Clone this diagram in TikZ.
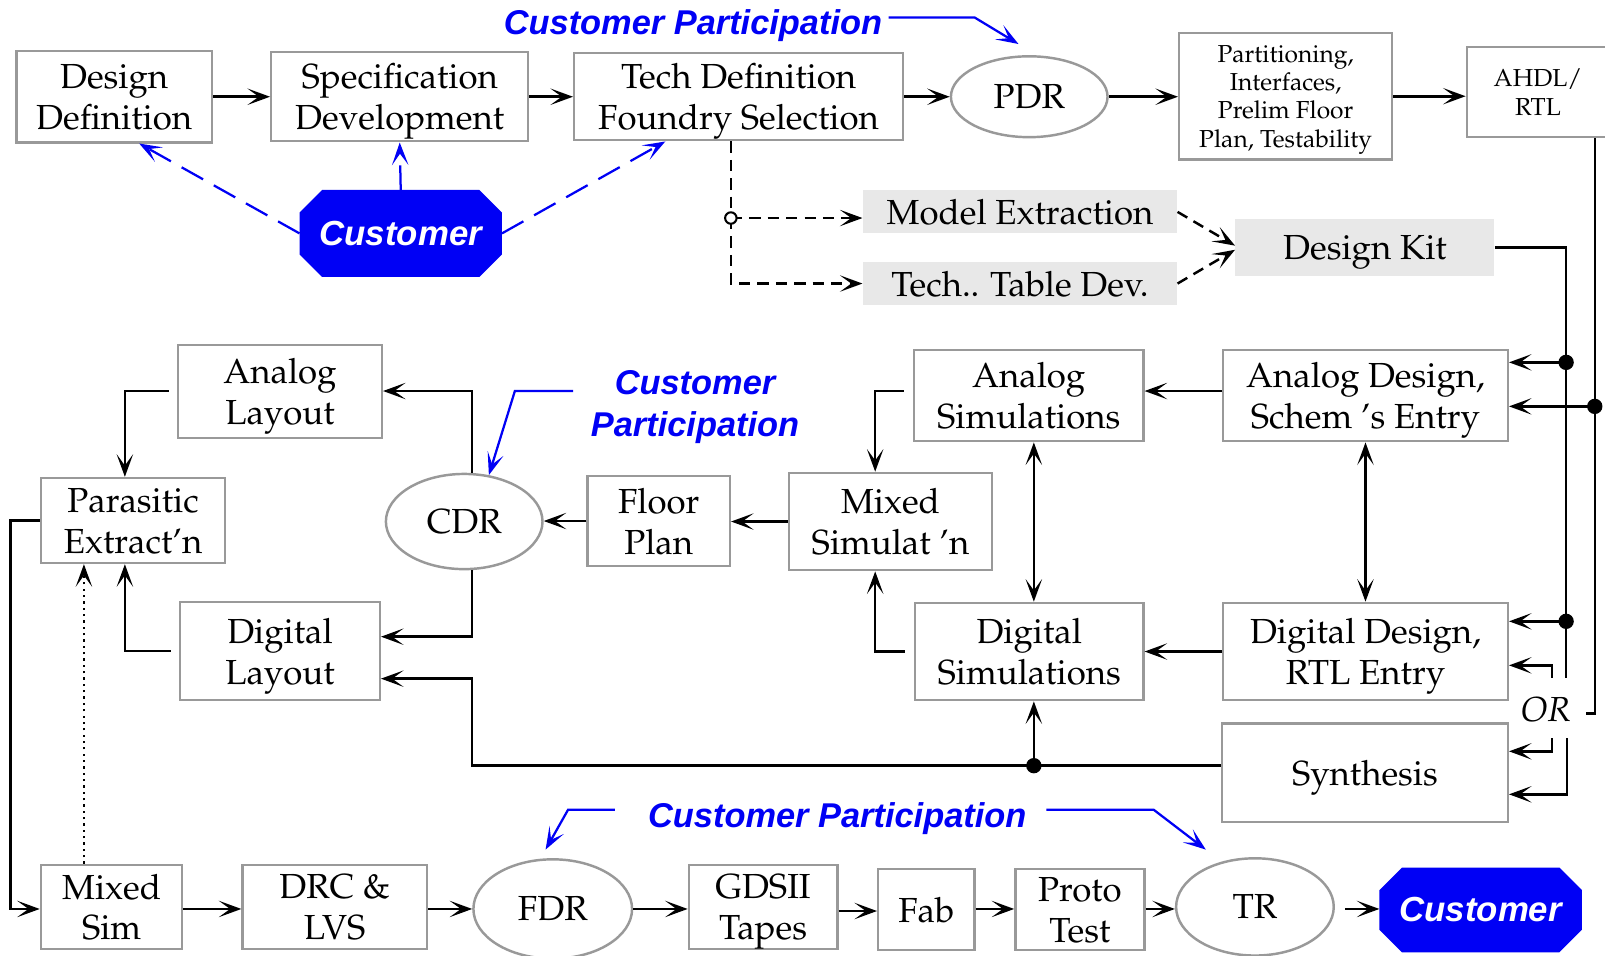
\documentclass[tikz,border=0pt]{standalone}
\usepackage[T1]{fontenc}
\usepackage{fontspec}
\newfontfamily\custfont{Liberation Sans}
\usetikzlibrary{arrows.meta,shapes.geometric,calc,backgrounds}
\newcommand\palfont{\fontencoding{T1}\fontfamily{ppl}\selectfont}
\definecolor{boxgray}{HTML}{999999}
\definecolor{kitgray}{HTML}{E8E8E8}
\definecolor{custblue}{RGB}{0,0,245}
% octagonal "Customer" badge, filled behind its label
\newcommand\octfill[1]{%
  \begin{pgfonlayer}{background}
    \fill[custblue] ([xshift=11pt]#1.north west) -- ([xshift=-11pt]#1.north east)
      -- ([yshift=-11pt]#1.north east) -- ([yshift=11pt]#1.south east)
      -- ([xshift=-11pt]#1.south east) -- ([xshift=11pt]#1.south west)
      -- ([yshift=11pt]#1.south west) -- ([yshift=-11pt]#1.north west) -- cycle;
  \end{pgfonlayer}}
\begin{document}
\begin{tikzpicture}[x=0.5pt,y=-0.5pt,
  tipA/.tip={Stealth[length=11pt,width=8pt,inset=5.5pt]},
  sz/.style 2 args={minimum width=#1pt,minimum height=#2pt},
  box/.style={draw=boxgray,line width=1.2pt,fill=white,align=center,inner sep=0pt,
    text depth=0pt,font=\palfont\fontsize{17}{20}\selectfont},
  small/.style={font=\palfont\fontsize{12}{13.9}\selectfont},
  oval/.style={ellipse,draw=boxgray,line width=1.2pt,fill=white,inner sep=0pt,
    font=\palfont\fontsize{17}{20}\selectfont},
  kit/.style={fill=kitgray,inner sep=0pt,text depth=0pt,font=\palfont\fontsize{17}{20}\selectfont},
  cust/.style={inner sep=0pt,text=white,font=\custfont\bfseries\itshape\fontsize{17}{20}\selectfont},
  cp/.style={inner sep=0pt,align=center,text=custblue,
    font=\custfont\bfseries\itshape\fontsize{16.8}{20.5}\selectfont},
  conn/.style={line width=1.25pt,-tipA},
  both/.style={line width=1.25pt,tipA-tipA},
  dconn/.style={line width=1.2pt,dash pattern=on 5.5pt off 3.5pt,-tipA},
  bl/.style={line width=1.1pt,draw=custblue,-tipA},
  bld/.style={line width=1.1pt,draw=custblue,dash pattern=on 12pt off 6pt,-tipA},
  dot/.style={circle,fill=black,inner sep=0pt,minimum size=7.5pt}]

\begin{pgfonlayer}{background}
  \fill[white] (0,0) rectangle (1568,933);
\end{pgfonlayer}
\useasboundingbox (0,0) rectangle (1568,933);
\clip (0,0) rectangle (1568,933);

% ---- top row ----
\node[box,sz={95.5}{44.5}] (dd) at (111.5,94.5) {Design\\Definition};
\node[box,sz={125.5}{43.5}] (sd) at (390.5,94.5) {Specification\\Development};
\node[box,sz={160.5}{42.5}] (td) at (721.5,94.5) {Tech Definition\\Foundry Selection};
\node[oval,sz={76.5}{39.5}] (pdr) at (1005.5,94.5) {PDR};
\node[box,small,sz={104}{62}] (part) at (1256,94) {Partitioning,\\Interfaces,\\Prelim Floor\\Plan, Testability};
\node[box,small,sz={69.5}{44}] (ahdl) at (1502.5,90) {AHDL/\\RTL};
\node[cust,sz={98.5}{42}] (c1) at (391.5,228) {Customer};
\octfill{c1}

\draw[conn] (dd.east) -- (sd.west);
\draw[conn] (sd.east) -- (td.west);
\draw[conn] (td.east) -- (pdr.west);
\draw[conn] (pdr.east) -- (part.west |- pdr.east);
\draw[conn] (part.east) -- (ahdl.west |- part.east);

\draw[bld] (c1.west) -- (dd.south -| 136,0);
\draw[bld] (c1.north) -- (sd.south);
\draw[bld] (c1.east) -- (td.south -| 650,0);

% ---- design kit ----
\node[kit,sz={153.5}{21}] (me) at (996.5,207) {Model Extraction};
\node[kit,sz={153.5}{21}] (tt) at (996.5,277) {Tech.. Table Dev.};
\node[kit,sz={126.5}{28}] (dk) at (1333.5,242) {Design Kit};
\coordinate (br) at (714,213);
\draw[line width=1.2pt,dash pattern=on 5.5pt off 3.5pt] (td.south -| br) -- (br);
\draw[dconn] (br) |- (tt.west);
\draw[dconn] (br) -- (me.west |- br);
\draw[line width=1pt,fill=white] (br) circle (2.8pt);
\draw[dconn] (me.east) -- ([yshift=1pt]dk.west);
\draw[dconn] (tt.east) -- ([yshift=-1pt]dk.west);

% ---- middle ----
\node[box,sz={139}{44.5}] (ad) at (1334,386.5) {Analog Design,\\Schem~'s Entry};
\node[box,sz={112}{44.5}] (as) at (1005,386.5) {Analog\\Simulations};
\node[box,sz={139}{47.5}] (dgd) at (1334,636.5) {Digital Design,\\RTL Entry};
\node[box,sz={111.5}{47.5}] (ds) at (1005.5,636.5) {Digital\\Simulations};
\node[box,sz={139.5}{48}] (syn) at (1333.5,755) {Synthesis};
\node[box,sz={99}{47.5}] (msn) at (870,509.5) {Mixed\\Simulat~'n};
\node[box,sz={69.5}{44}] (fp) at (643.5,509) {Floor\\Plan};
\node[oval,sz={76.5}{46.5}] (cdr) at (453.5,509.5) {CDR};
\node[box,sz={99.5}{45.5}] (al) at (273.5,382.5) {Analog\\Layout};
\node[box,sz={97.5}{48}] (dl) at (273.5,636) {Digital\\Layout};
\node[box,sz={90}{41.5}] (pe) at (130,508.5) {Parasitic\\Extract'n};
\node[inner sep=0pt,font=\palfont\itshape\fontsize{17}{20}\selectfont] (ortext) at (1510,693) {OR};

% design-kit bus
\coordinate (j1) at (1530,354);
\coordinate (j2) at (1530,607);
\draw[line width=1.25pt] (dk.east) -| (1530,662);
\node[dot] at (j1) {};
\node[dot] at (j2) {};
\draw[conn] (j1) -- (ad.east |- j1);
\draw[conn] (j2) -- (dgd.east |- j2);
% AHDL/RTL bus
\coordinate (j3) at (1558,397);
\draw[line width=1.25pt] (ahdl.south -| j3) -- (1558,697) -- (1549,697);
\node[dot] at (j3) {};
\draw[conn] (j3) -- (ad.east |- j3);
% alternative entries around OR
\draw[conn] (1516,662) |- (dgd.east |- 0,650);
\draw[conn] (1516,721) |- (syn.east |- 0,734);
\draw[conn] (1531,721) |- (syn.east |- 0,776);

\draw[conn] (ad.west |- 0,382) -- (as.east |- 0,382);
\draw[conn] (dgd.west) -- (ds.east);
\draw[both] (ad.south) -- (dgd.north);
\draw[both] (as.south -| 1010,0) -- (ds.north -| 1010,0);
\draw[conn,shorten <=4.5pt] (as.west |- 0,382) -| (msn.north -| 855,0);
\draw[conn,shorten <=4.5pt] (ds.west) -| (msn.south -| 855,0);
\draw[conn] (msn.west) -- (fp.east |- msn.west);
\draw[conn] (fp.west) -- (cdr.east |- fp.west);
\draw[conn] (cdr.north -| 461,0) |- (al.east |- 0,382);
\draw[conn] (cdr.south -| 461,0) |- (dl.east |- 0,622);
\coordinate (j4) at (1010,748);
\draw[conn] (syn.west |- j4) -- (461,748) |- (dl.east |- 0,663);
\node[dot] at (j4) {};
\draw[conn] (j4) -- (ds.south -| j4);
\draw[conn,shorten <=4pt] (al.west |- 0,382) -| (pe.north -| 122,0);
\draw[conn,shorten <=4pt] (dl.west) -| (pe.south -| 122,0);

% ---- bottom row ----
\node[box,sz={69}{41}] (ms2) at (109,886) {Mixed\\Sim};
\node[box,sz={90}{41}] (drc) at (327,886) {DRC \&\\LVS};
\node[oval,sz={77.5}{48.5}] (fdr) at (540,888) {FDR};
\node[box,sz={72.5}{41}] (gds) at (745.5,886) {GDSII\\Tapes};
\node[box,sz={47}{39.5}] (fab) at (905,888.5) {Fab};
\node[box,sz={63}{39.5}] (pro) at (1055,888.5) {Proto\\Test};
\node[oval,sz={77}{47.5}] (tr) at (1226,886) {TR};
\node[cust,sz={98.5}{41}] (c2) at (1446.5,889) {Customer};
\octfill{c2}

\draw[conn] (pe.west) -| (10,888) -- (ms2.west |- 0,888);
\draw[line width=1.1pt,dotted,-tipA] (ms2.north -| 82,0) -- (pe.south -| 82,0);
\draw[conn] (ms2.east |- 0,888) -- (drc.west |- 0,888);
\draw[conn] (drc.east |- 0,888) -- (fdr.west |- 0,888);
\draw[conn] (fdr.east |- 0,888) -- (gds.west |- 0,888);
\draw[conn] (gds.east |- 0,890) -- (fab.west |- 0,890);
\draw[conn] (fab.east |- 0,888) -- (pro.west |- 0,888);
\draw[conn] (pro.east |- 0,888) -- (tr.west |- 0,888);
\draw[conn,shorten <=5pt] (tr.east |- 0,888) -- (c2.west |- 0,888);

% ---- customer participation notes ----
\node[cp] (cp1) at (677,25) {Customer Participation};
\coordinate (pdrtip) at (995,43);
\draw[bl,shorten <=3pt] (cp1.east |- 0,17) -- (952,17) -- (pdrtip);
\node[cp] (cp2) at (679,398) {Customer\\Participation};
\draw[bl,shorten <=8.5pt] (cp2.west |- 0,382) -- (503,382) -- (cdr.62);
\node[cp] (cp3) at (818,800) {Customer Participation};
\coordinate (fdrtip) at (533,830);
\coordinate (trtip) at (1178,830);
\draw[bl,shorten <=16pt] (cp3.west |- 0,791) -- (555,791) -- (fdrtip);
\draw[bl,shorten <=9.5pt] (cp3.east |- 0,791) -- (1127,791) -- (trtip);
\end{tikzpicture}
\end{document}
